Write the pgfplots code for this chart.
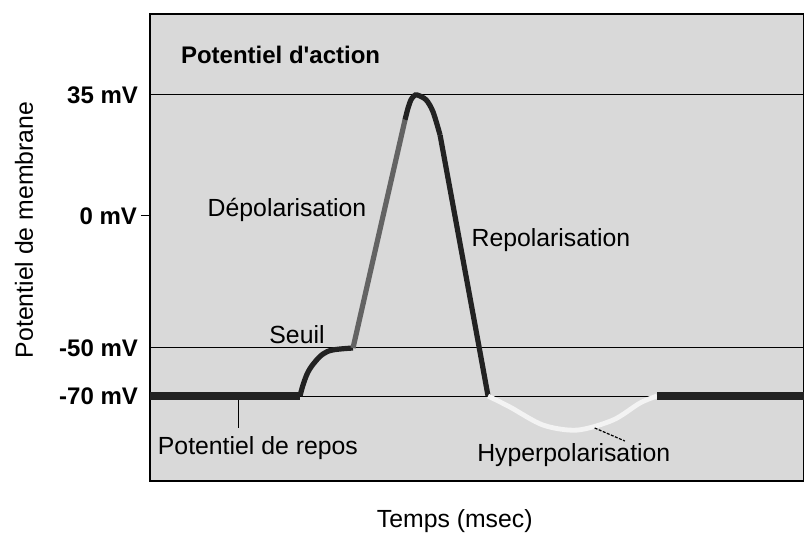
\documentclass[border=0pt]{standalone}
\usepackage{fontspec}
\setmainfont{Liberation Sans}[Ligatures=TeXOff]
\usepackage{pgfplots}
\pgfplotsset{compat=1.18}
\definecolor{bg}{HTML}{D9D9D9}
\definecolor{depol}{HTML}{636363}
\definecolor{curve}{HTML}{222222}
\definecolor{hyper}{HTML}{F3F3F3}
\newcommand{\lab}{\fontsize{12.4}{14}\selectfont}

\begin{document}
\begin{tikzpicture}
\begin{axis}[
  scale only axis,
  width=327pt, height=233.5pt,
  xmin=0, xmax=10.06,
  ymin=-105.4, ymax=58.4,
  % schematic scale: the mV levels are not evenly spaced
  y coord trafo/.code={\pgfmathparse{(#1)>=0 ? 265+3.457*(#1) : ((#1)>=-50 ? 265+2.64*(#1) : 133+2.4*((#1)+50))}},
  xtick=\empty,
  ytick={35,-50,-70},
  yticklabels={35 mV,-50 mV,-70 mV},
  ymajorgrids,
  grid style={black, line width=0.5pt},
  major tick length=0pt,
  extra y ticks={0},
  extra y tick labels={0 mV},
  extra y tick style={grid=none, major tick length=4.5pt, tick align=outside,
    tick style={black, line width=0.5pt}, yticklabel style={xshift=4pt}},
  ytick pos=left,
  axis background/.style={fill=bg},
  axis line style={black, line width=0.6pt},
  yticklabel style={font=\fontsize{12}{14}\selectfont\bfseries, xshift=-2.5pt},
  xlabel={Temps (msec)},
  xlabel style={font=\lab, at={(rel axis cs:0.466,-0.0857)}, anchor=center},
  ylabel={Potentiel de membrane},
  ylabel style={font=\lab, at={(rel axis cs:-0.1927,0.5375)}, anchor=center},
]
% potentiel de repos
\addplot[curve, line width=3.6pt] coordinates {(0,-70) (2.31,-70)};
% seuil
\addplot[curve, line width=2.6pt, smooth, tension=0.6] coordinates {
  (2.308,-70) (2.354,-65.4) (2.431,-60) (2.538,-55.8) (2.662,-52.5) (2.815,-50.8) (3.123,-50)};
% depolarisation
\addplot[depol, line width=2.6pt] coordinates {(3.123,-50) (3.585,0) (3.923,27.8)};
% pic
\addplot[curve, line width=2.6pt, smooth, tension=0.5] coordinates {
  (3.923,27.8) (3.969,31.2) (4.015,33.6) (4.062,34.7) (4.108,35)
  (4.246,33.6) (4.354,30.1) (4.462,23.4)};
% repolarisation
\addplot[curve, line width=2.6pt] coordinates {(4.462,23.4) (4.691,0) (5.065,-50) (5.2,-70)};
% hyperpolarisation
\addplot[hyper, line width=2.4pt, smooth] coordinates {
  (5.2,-70) (5.538,-74.6) (6.046,-82.1) (6.569,-84.2) (7.123,-80) (7.538,-72.9) (7.8,-70)};
% retour au repos
\addplot[curve, line width=3.6pt] coordinates {(7.8,-70) (10.06,-70)};

\node[anchor=west, font=\fontsize{12}{14}\selectfont\bfseries] at (rel axis cs:0.0367,0.912) {Potentiel d'action};
\node[font=\lab] at (rel axis cs:0.2095,0.580) {Dépolarisation};
\node[font=\lab] at (rel axis cs:0.613,0.516) {Repolarisation};
\node[font=\lab] at (rel axis cs:0.2248,0.3126) {Seuil};
\node[font=\lab] at (rel axis cs:0.165,0.0707) {Potentiel de repos};
\node[font=\lab] at (rel axis cs:0.648,0.0557) {Hyperpolarisation};
\draw[black, line width=0.5pt] (rel axis cs:0.1346,0.1734) -- (rel axis cs:0.1346,0.1135);
\draw[black, line width=0.6pt, dash pattern=on 1.5pt off 0.7pt] (rel axis cs:0.680,0.1135) -- (rel axis cs:0.726,0.0857);
\end{axis}
\pgfresetboundingbox
\useasboundingbox (-75pt,-27.5pt) rectangle (327pt,240.5pt);
\end{tikzpicture}
\end{document}
